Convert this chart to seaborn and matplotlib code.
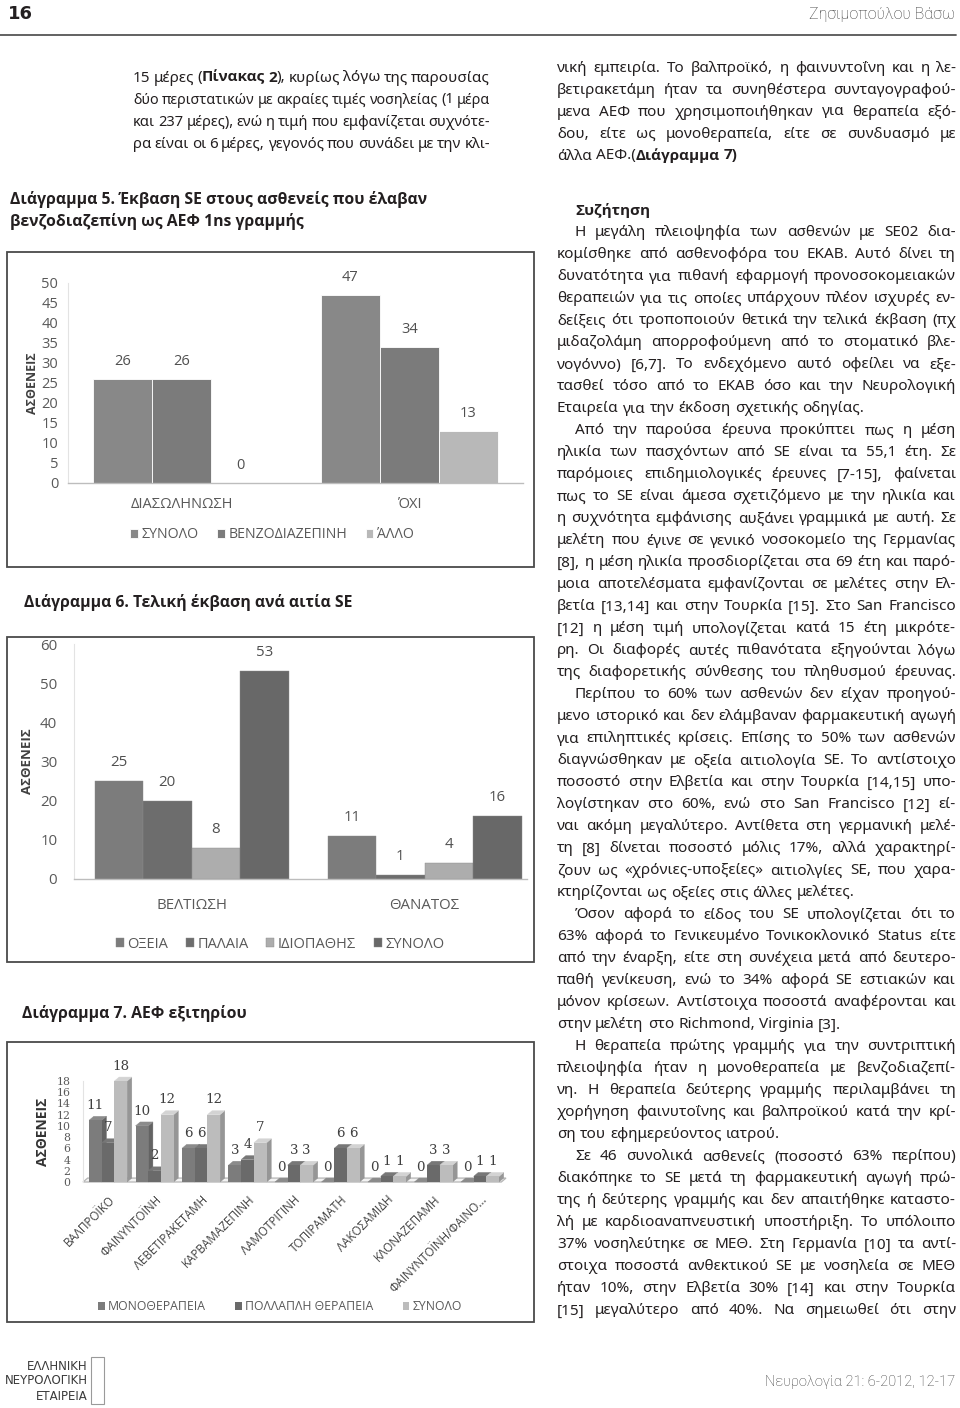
import matplotlib
matplotlib.use('Agg')
import matplotlib.pyplot as plt
from matplotlib.patches import Rectangle, Polygon
from matplotlib.lines import Line2D
import matplotlib.colors as mcolors
import seaborn as sns
import pandas as pd

# ---- data ----
# Διάγραμμα 5
d5_categories = ['ΔΙΑΣΩΛΗΝΩΣΗ', 'ΌΧΙ']
d5_series = ['ΣΥΝΟΛΟ', 'ΒΕΝΖΟΔΙΑΖΕΠΙΝΗ', 'ΆΛΛΟ']
d5_total = [26, 47]
d5_benzo = [26, 34]
d5_other = [0, 13]

# Διάγραμμα 6
d6_categories = ['ΒΕΛΤΙΩΣΗ', 'ΘΑΝΑΤΟΣ']
d6_series = ['ΟΞΕΙΑ', 'ΠΑΛΑΙΑ', 'ΙΔΙΟΠΑΘΗΣ', 'ΣΥΝΟΛΟ']
d6_acute = [25, 11]
d6_old = [20, 1]
d6_idio = [8, 4]
d6_total = [53, 16]

# Διάγραμμα 7
d7_drugs = ['ΒΑΛΠΡΟΪΚΟ', 'ΦΑΙΝΥΝΤΟΪΝΗ', 'ΛΕΒΕΤΙΡΑΚΕΤΑΜΗ', 'ΚΑΡΒΑΜΑΖΕΠΙΝΗ',
            'ΛΑΜΟΤΡΙΓΙΝΗ', 'ΤΟΠΙΡΑΜΑΤΗ', 'ΛΑΚΟΣΑΜΙΔΗ', 'ΚΛΟΝΑΖΕΠΑΜΗ',
            'ΦΑΙΝΥΝΤΟΪΝΗ/ΦΑΙΝΟ...']
d7_series = ['ΜΟΝΟΘΕΡΑΠΕΙΑ', 'ΠΟΛΛΑΠΛΗ ΘΕΡΑΠΕΙΑ', 'ΣΥΝΟΛΟ']
d7_mono = [11, 10, 6, 3, 0, 0, 0, 0, 0]
d7_multi = [7, 2, 6, 4, 3, 6, 1, 3, 1]
d7_total = [18, 12, 12, 7, 3, 6, 1, 3, 1]

# page text
left_lines = [
    '15 μέρες (**Πίνακας 2**), κυρίως λόγω της παρουσίας',
    'δύο περιστατικών με ακραίες τιμές νοσηλείας (1 μέρα',
    'και 237 μέρες), ενώ η τιμή που εμφανίζεται συχνότε-',
    'ρα είναι οι 6 μέρες, γεγονός που συνάδει με την κλι-',
]
# (text, indent, justify)
right_lines = [
    ('νική εμπειρία. Το βαλπροϊκό, η φαινυντοΐνη και η λε-', 0, True),
    ('βετιρακετάμη ήταν τα συνηθέστερα συνταγογραφού-', 0, True),
    ('μενα ΑΕΦ που χρησιμοποιήθηκαν για θεραπεία εξό-', 0, True),
    ('δου, είτε ως μονοθεραπεία, είτε σε συνδυασμό με', 0, True),
    ('άλλα ΑΕΦ.(**Διάγραμμα 7)**', 0, False),
    None,
    ('**Συζήτηση**', 1, False),
    ('Η μεγάλη πλειοψηφία των ασθενών με SE02 δια-', 1, True),
    ('κομίσθηκε από ασθενοφόρα του ΕΚΑΒ. Αυτό δίνει τη', 0, True),
    ('δυνατότητα για πιθανή εφαρμογή προνοσοκομειακών', 0, True),
    ('θεραπειών για τις οποίες υπάρχουν πλέον ισχυρές εν-', 0, True),
    ('δείξεις ότι τροποποιούν θετικά την τελικά έκβαση (πχ', 0, True),
    ('μιδαζολάμη απορροφούμενη από το στοματικό βλε-', 0, True),
    ('νογόννο) [6,7]. Το ενδεχόμενο αυτό οφείλει να εξε-', 0, True),
    ('τασθεί τόσο από το ΕΚΑΒ όσο  και την Νευρολογική', 0, True),
    ('Εταιρεία για την έκδοση σχετικής οδηγίας.', 0, False),
    ('Από την παρούσα έρευνα προκύπτει πως η μέση', 1, True),
    ('ηλικία των πασχόντων από SE είναι τα 55,1 έτη. Σε', 0, True),
    ('παρόμοιες επιδημιολογικές έρευνες [7-15], φαίνεται', 0, True),
    ('πως το SE είναι άμεσα σχετιζόμενο με την ηλικία και', 0, True),
    ('η συχνότητα εμφάνισης αυξάνει γραμμικά με αυτή. Σε', 0, True),
    ('μελέτη που έγινε σε γενικό νοσοκομείο της  Γερμανίας', 0, True),
    ('[8], η μέση ηλικία προσδιορίζεται στα 69 έτη και παρό-', 0, True),
    ('μοια αποτελέσματα εμφανίζονται σε μελέτες στην Ελ-', 0, True),
    ('βετία [13,14] και στην Τουρκία [15]. Στο San Francisco', 0, True),
    ('[12] η μέση τιμή υπολογίζεται κατά 15 έτη μικρότε-', 0, True),
    ('ρη. Οι διαφορές αυτές πιθανότατα εξηγούνται λόγω', 0, True),
    ('της διαφορετικής σύνθεσης του πληθυσμού έρευνας.', 0, True),
    ('Περίπου το 60% των ασθενών δεν είχαν προηγού-', 1, True),
    ('μενο ιστορικό και δεν ελάμβαναν φαρμακευτική αγωγή', 0, True),
    ('για επιληπτικές κρίσεις. Επίσης το 50% των ασθενών', 0, True),
    ('διαγνώσθηκαν με οξεία αιτιολογία SE. Το αντίστοιχο', 0, True),
    ('ποσοστό στην Ελβετία και στην Τουρκία [14,15] υπο-', 0, True),
    ('λογίστηκαν στο 60%, ενώ στο San Francisco [12] εί-', 0, True),
    ('ναι ακόμη μεγαλύτερο. Αντίθετα στη γερμανική μελέ-', 0, True),
    ('τη [8] δίνεται ποσοστό μόλις 17%, αλλά χαρακτηρί-', 0, True),
    ('ζουν ως «χρόνιες-υποξείες» αιτιολγίες SE, που χαρα-', 0, True),
    ('κτηρίζονται ως οξείες στις άλλες μελέτες.', 0, False),
    ('Όσον αφορά το είδος του SE υπολογίζεται ότι το', 1, True),
    ('63% αφορά το Γενικευμένο Τονικοκλονικό Status είτε', 0, True),
    ('από την έναρξη, είτε στη συνέχεια μετά από δευτερο-', 0, True),
    ('παθή γενίκευση, ενώ το 34% αφορά SE εστιακών και', 0, True),
    ('μόνον κρίσεων. Αντίστοιχα ποσοστά αναφέρονται και', 0, True),
    ('στην μελέτη στο Richmond, Virginia [3].', 0, False),
    ('Η θεραπεία πρώτης γραμμής για την συντριπτική', 1, True),
    ('πλειοψηφία ήταν η μονοθεραπεία με βενζοδιαζεπί-', 0, True),
    ('νη. Η θεραπεία δεύτερης γραμμής περιλαμβάνει τη', 0, True),
    ('χορήγηση φαινυτοΐνης και βαλπροϊκού κατά την κρί-', 0, True),
    ('ση του εφημερεύοντος ιατρού.', 0, False),
    ('Σε 46 συνολικά ασθενείς (ποσοστό 63% περίπου)', 1, True),
    ('διακόπηκε το SE μετά τη φαρμακευτική αγωγή πρώ-', 0, True),
    ('της ή δεύτερης γραμμής και δεν απαιτήθηκε καταστο-', 0, True),
    ('λή με  καρδιοαναπνευστική υποστήριξη. Το υπόλοιπο', 0, True),
    ('37% νοσηλεύτηκε σε ΜΕΘ. Στη Γερμανία [10] τα αντί-', 0, True),
    ('στοιχα ποσοστά ανθεκτικού SE με νοσηλεία σε ΜΕΘ', 0, True),
    ('ήταν 10%, στην Ελβετία 30% [14] και στην Τουρκία', 0, True),
    ('[15] μεγαλύτερο από 40%. Να σημειωθεί ότι στην', 0, True),
]

# ---- setup ----
sns.set_style('white')
SANS = ['Open Sans', 'DejaVu Sans']
BODY = ['Noto Sans', 'DejaVu Sans']
SERIF = ['DejaVu Serif']
plt.rcParams['font.family'] = SANS

W, H = 960, 1408
fig = plt.figure(figsize=(W / 100, H / 100), dpi=100)
renderer = fig.canvas.get_renderer()


def fx(px):
    return px / W


def fy(py):
    return 1 - py / H


def axes_px(left, top, right, bottom):
    return fig.add_axes([fx(left), fy(bottom), (right - left) / W, (bottom - top) / H])


def frame_px(left, top, right, bottom):
    fig.add_artist(Rectangle((fx(left), fy(bottom)), (right - left) / W, (bottom - top) / H,
                             transform=fig.transFigure, fill=False,
                             edgecolor='#4a4a4a', lw=1.3))


def long_df(categories, series, columns):
    rows = []
    for s, vals in zip(series, columns):
        for c, v in zip(categories, vals):
            rows.append({'cat': c, 'series': s, 'value': v})
    return pd.DataFrame(rows)


def parse_words(line):
    words = []
    bold = False
    for raw in line.split(' '):
        pieces = []
        for k, p in enumerate(raw.split('**')):
            if k > 0:
                bold = not bold
            if p:
                pieces.append((p, bold))
        if pieces:
            words.append(pieces)
    return words


def make_words(words, y, size, color):
    placed, widths = [], []
    for word in words:
        arts, wsum = [], 0
        for piece, bold in word:
            t = fig.text(0, fy(y), piece, fontsize=size,
                         family=SANS if bold else BODY,
                         weight='bold' if bold else 'normal', color=color,
                         ha='left', va='center_baseline')
            w = t.get_window_extent(renderer).width
            arts.append((t, w))
            wsum += w
        placed.append(arts)
        widths.append(wsum)
    return placed, widths


def text_line(x0, x1, y, line, justify, size=11, color='#231f20'):
    words = parse_words(line)
    placed, widths = make_words(words, y, size, color)
    min_gap = 3.0
    need = sum(widths) + min_gap * (len(words) - 1)
    if justify and need > x1 - x0:
        # shrink a too-long line so it still fits the column
        for arts in placed:
            for t, _ in arts:
                t.remove()
        size = size * (x1 - x0 - min_gap * (len(words) - 1)) / sum(widths)
        placed, widths = make_words(words, y, size, color)
    gap = size * 100 / 72 * 0.27
    if justify and len(words) > 1:
        gap = (x1 - x0 - sum(widths)) / (len(words) - 1)
    x = x0
    for arts, w in zip(placed, widths):
        for t, pw in arts:
            t.set_x(fx(x))
            x += pw
        x += gap


def style_axes(ax, ymax, step, pad, size):
    ax.set_ylim(0, ymax)
    ax.set_yticks(range(0, ymax + 1, step))
    for s in ['top', 'right']:
        ax.spines[s].set_visible(False)
    ax.spines['left'].set_color('#e3e3e3')
    ax.spines['bottom'].set_color('#bdbdbd')
    ax.spines['bottom'].set_linewidth(1.0)
    ax.tick_params(length=0, colors='#595959', labelsize=size)
    ax.tick_params(axis='y', pad=pad)
    ax.set_xlabel('')
    ax.set_facecolor('none')


def put_legend(ax, cx, cy, ncol, spacing, size):
    handles, labels = ax.get_legend_handles_labels()
    ax.legend(handles, labels, loc='center', bbox_to_anchor=(fx(cx), fy(cy)),
              bbox_transform=fig.transFigure, ncol=ncol, frameon=False,
              handlelength=0.55, handleheight=0.55, handletextpad=0.25,
              columnspacing=spacing, fontsize=size, labelcolor='#595959')


# ---- header ----
fig.text(fx(8), fy(14), '16', fontsize=13, weight='bold',
         family=['Liberation Sans Narrow', 'DejaVu Sans'], color='#231f20',
         ha='left', va='center')
fig.text(fx(955), fy(14), 'Ζησιμοπούλου Βάσω', fontsize=11.5, weight='light',
         family=['Roboto', 'DejaVu Sans'], color='#3a3a3a', ha='right', va='center')
fig.add_artist(Line2D([0, fx(956)], [fy(35), fy(35)], transform=fig.transFigure,
                      color='#555555', lw=1.3))

# ---- body text ----
for i, line in enumerate(left_lines):
    text_line(133, 490, 76 + 22 * i, line, True)

for i, item in enumerate(right_lines):
    if item is None:
        continue
    line, indent, just = item
    y = 66 + 22 * i if i < 5 else 209 + 22 * (i - 6)
    text_line(557 + 18 * indent, 956, y, line, just)

# captions
cap_kw = dict(fontsize=11.3, weight='bold', family=SANS, color='#231f20',
              ha='left', va='center_baseline')
fig.text(fx(10), fy(197), 'Διάγραμμα 5. Έκβαση SE στους ασθενείς που έλαβαν', **cap_kw)
fig.text(fx(10), fy(219), 'βενζοδιαζεπίνη ως ΑΕΦ 1ns γραμμής', **cap_kw)
fig.text(fx(24), fy(601), 'Διάγραμμα 6. Τελική έκβαση ανά αιτία SE', **cap_kw)
fig.text(fx(22), fy(1011), 'Διάγραμμα 7. ΑΕΦ εξιτηρίου', **cap_kw)

# ---- Διάγραμμα 5 ----
frame_px(7, 252, 534, 567)
ax5 = axes_px(68, 283, 523, 483)
df5 = long_df(d5_categories, d5_series, [d5_total, d5_benzo, d5_other])
sns.barplot(data=df5, x='cat', y='value', hue='series', ax=ax5,
            palette=['#888888', '#7b7b7b', '#b8b8b8'], width=0.78, gap=0,
            edgecolor='white', linewidth=0.6, saturation=1)
style_axes(ax5, 50, 5, 7, 10.5)
ax5.set_xlim(-0.5, 1.5)
ax5.tick_params(axis='x', pad=10)
ax5.set_ylabel('ΑΣΘΕΝΕΙΣ', fontsize=9, weight='bold', color='#404040')
ax5.yaxis.set_label_coords(-0.064, 0.5)
for c in ax5.containers:
    ax5.bar_label(c, fmt='%g', padding=7, fontsize=10.5, color='#505050')
put_legend(ax5, 272, 535, 3, 1.3, 10.2)

# ---- Διάγραμμα 6 ----
frame_px(7, 637, 534, 962)
ax6 = axes_px(74, 644, 527, 879)
df6 = long_df(d6_categories, d6_series, [d6_acute, d6_old, d6_idio, d6_total])
sns.barplot(data=df6, x='cat', y='value', hue='series', ax=ax6,
            palette=['#7c7c7c', '#6d6d6d', '#adadad', '#686868'], width=0.833, gap=0,
            edgecolor='#8a8a8a', linewidth=0.3, saturation=1)
style_axes(ax6, 60, 10, 12, 10.8)
ax6.set_xlim(-0.505, 1.44)
ax6.tick_params(axis='x', pad=14)
ax6.set_ylabel('ΑΣΘΕΝΕΙΣ', fontsize=9.5, weight='bold', color='#404040')
ax6.yaxis.set_label_coords(-0.088, 0.5)
for c in ax6.containers:
    ax6.bar_label(c, fmt='%g', padding=8, fontsize=10.8, color='#505050')
put_legend(ax6, 280, 944, 4, 1.2, 10.5)

# ---- Διάγραμμα 7 (pseudo 3D columns) ----
frame_px(7, 1042, 534, 1322)
ax7 = axes_px(83, 1081, 506, 1182)
df7 = long_df(d7_drugs, d7_series, [d7_mono, d7_multi, d7_total])
sns.barplot(data=df7, x='cat', y='value', hue='series', ax=ax7,
            palette=['#7c7c7c', '#6a6a6a', '#bcbcbc'], width=0.82, gap=0,
            linewidth=0, saturation=1)
style_axes(ax7, 18, 2, 9, 8)
ax7.spines['bottom'].set_visible(False)
ax7.set_xlim(-0.54, 8.56)
ax7.set_ylabel('ΑΣΘΕΝΕΙΣ', fontsize=10, weight='bold', color='#333333')
ax7.yaxis.set_label_coords(-0.078, 0.5)
for lab in ax7.get_yticklabels():
    lab.set_family(SERIF)
    lab.set_fontsize(7.8)
ax7.tick_params(axis='x', pad=8)
plt.setp(ax7.get_xticklabels(), rotation=45, ha='right', rotation_mode='anchor',
         fontsize=8.4, color='#404040')

dx, dy = 0.1, 0.7
xl, xr = ax7.get_xlim()
ax7.add_patch(Polygon([(xl, 0), (xr - dx, 0), (xr, dy), (xl + dx, dy)], closed=True,
                      facecolor='#f3f3f3', edgecolor='#b5b5b5', lw=0.9, zorder=1,
                      clip_on=False))
bars = sorted([p for c in ax7.containers for p in c], key=lambda p: p.get_x())
for i, p in enumerate(bars):
    x, w, h = p.get_x(), p.get_width(), p.get_height()
    rgb = mcolors.to_rgb(p.get_facecolor())
    dark = tuple(v * 0.8 for v in rgb)
    light = tuple(min(1, v * 1.12) for v in rgb)
    z = 2 + i * 0.01
    ax7.add_patch(Polygon([(x + w, 0), (x + w + dx, dy), (x + w + dx, h + dy), (x + w, h)],
                          closed=True, facecolor=dark, edgecolor=dark, lw=0.3,
                          zorder=z, clip_on=False))
    ax7.add_patch(Polygon([(x, h), (x + dx, h + dy), (x + w + dx, h + dy), (x + w, h)],
                          closed=True, facecolor=light, edgecolor=light, lw=0.3,
                          zorder=z, clip_on=False))
    p.set_zorder(z + 0.005)
    p.set_clip_on(False)
for c in ax7.containers:
    ax7.bar_label(c, fmt='%g', padding=6, fontsize=9.6, color='#404040',
                  family=SERIF)
put_legend(ax7, 280, 1307, 3, 2.4, 8.8)

# ---- footer ----
logo_kw = dict(fontsize=8.5, family=['Liberation Sans Narrow', 'DejaVu Sans'],
               color='#3a3a3a', ha='right', va='center')
fig.text(fx(88), fy(1366), 'ΕΛΛΗΝΙΚΗ', **logo_kw)
fig.text(fx(88), fy(1381), 'ΝΕΥΡΟΛΟΓΙΚΗ', **logo_kw)
fig.text(fx(88), fy(1397), 'ΕΤΑΙΡΕΙΑ', **logo_kw)
fig.add_artist(Rectangle((fx(91), fy(1404)), 13 / W, 47 / H, transform=fig.transFigure,
                         fill=False, edgecolor='#9a9a9a', lw=0.8))
fig.text(fx(955), fy(1382), 'Νευρολογία 21: 6-2012, 12-17', fontsize=10.5,
         weight='light', family=['Roboto', 'DejaVu Sans'], color='#3a3a3a',
         ha='right', va='center')

fig.savefig('out.png', dpi=100)
